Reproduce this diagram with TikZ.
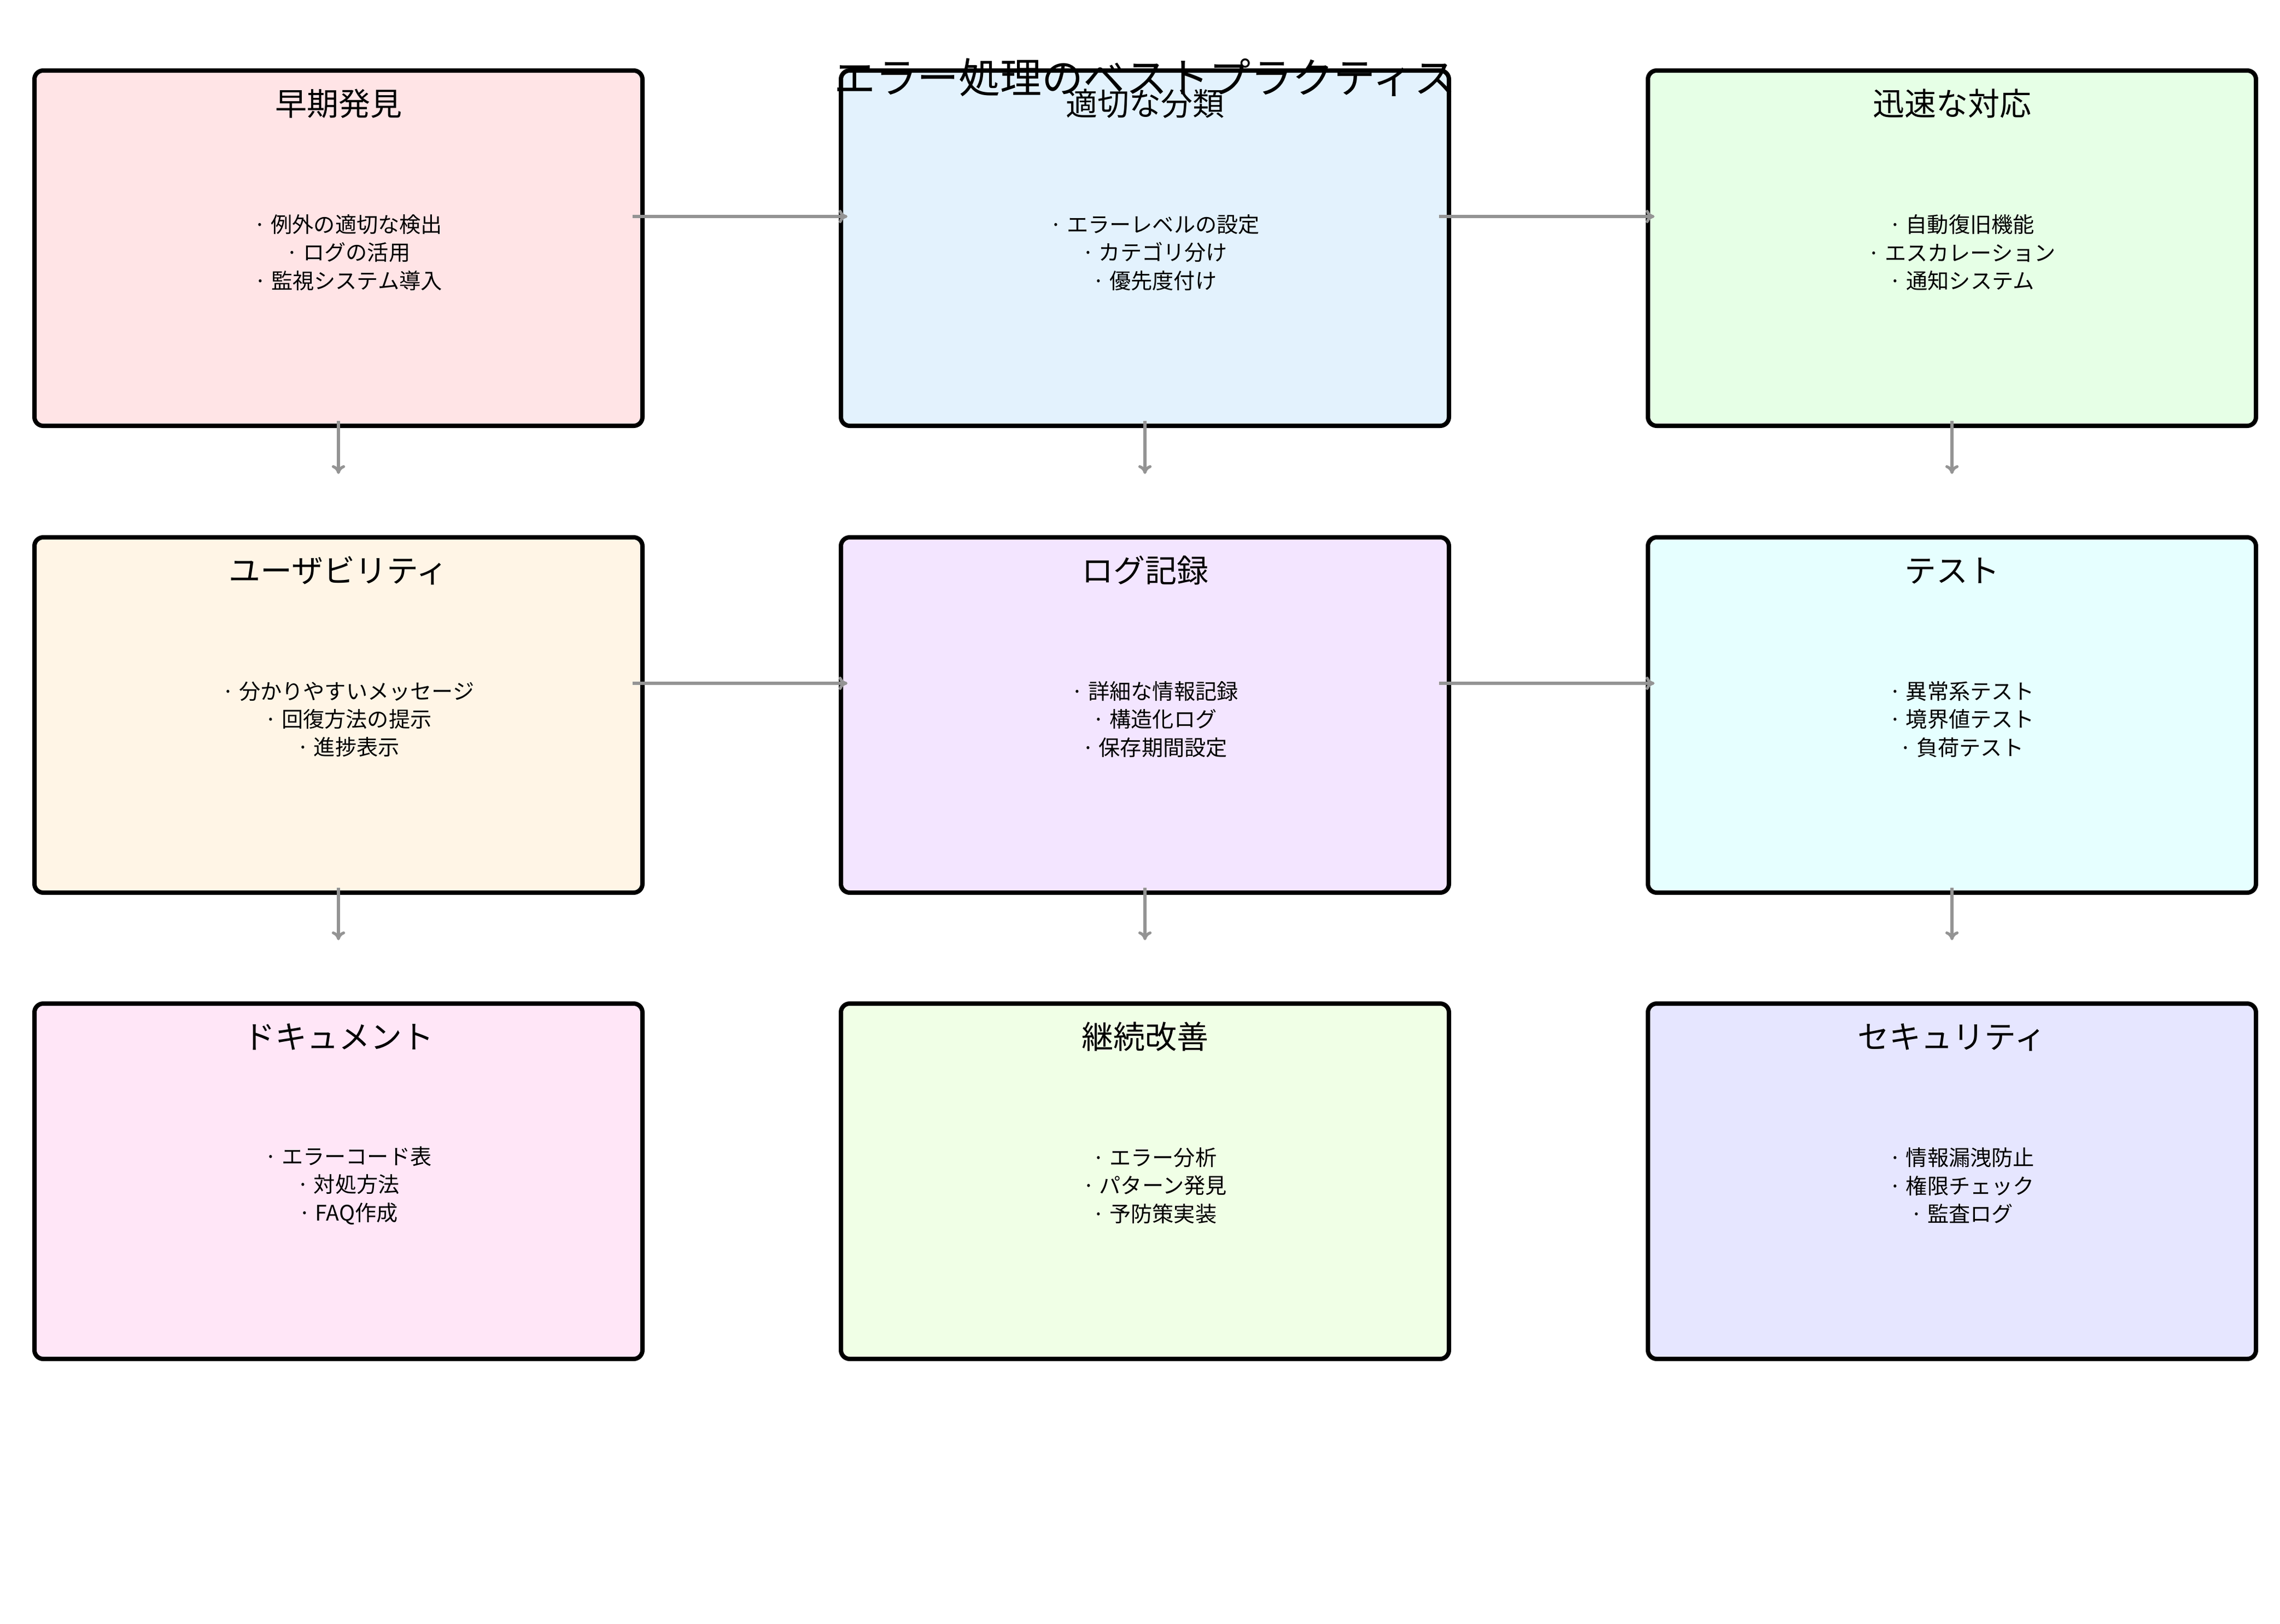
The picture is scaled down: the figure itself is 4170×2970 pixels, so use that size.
\documentclass[tikz,border=0pt]{standalone}
\usepackage{fontspec}
\setmainfont{Noto Sans CJK JP}
\usetikzlibrary{arrows.meta}
\definecolor{c1}{HTML}{FFE4E6}
\definecolor{c2}{HTML}{E3F2FD}
\definecolor{c3}{HTML}{E6FFE6}
\definecolor{c4}{HTML}{FFF5E6}
\definecolor{c5}{HTML}{F3E5FF}
\definecolor{c6}{HTML}{E6FFFF}
\definecolor{c7}{HTML}{FFE6F7}
\definecolor{c8}{HTML}{F0FFE6}
\definecolor{c9}{HTML}{E6E6FF}
\tikzset{
 card/.style={draw=black, line width=2pt, rounded corners=4pt, minimum width=278pt, minimum height=162.5pt, inner sep=0pt},
 ttl/.style={font=\fontsize{14.5}{17}\selectfont, anchor=base},
 body/.style={font=\fontsize{9.8}{12.8}\selectfont, align=center},
 conn/.style={draw=black!42, line width=1.3pt, -{To[length=4pt,width=6pt]}}
}
\begin{document}
\begin{tikzpicture}[x=0.25pt,y=-0.25pt]
\useasboundingbox[fill=white] (0,0) rectangle (4170,2970);
\def\cards{1/619/454/c1/早期発見/{· 例外の適切な検出\\· ログの活用\\· 監視システム導入},
2/2094/454/c2/適切な分類/{· エラーレベルの設定\\· カテゴリ分け\\· 優先度付け},
3/3570/454/c3/迅速な対応/{· 自動復旧機能\\· エスカレーション\\· 通知システム},
4/619/1308/c4/ユーザビリティ/{· 分かりやすいメッセージ\\· 回復方法の提示\\· 進捗表示},
5/2094/1308/c5/ログ記録/{· 詳細な情報記録\\· 構造化ログ\\· 保存期間設定},
6/3570/1308/c6/テスト/{· 異常系テスト\\· 境界値テスト\\· 負荷テスト},
7/619/2161/c7/ドキュメント/{· エラーコード表\\· 対処方法\\· FAQ作成},
8/2094/2161/c8/継続改善/{· エラー分析\\· パターン発見\\· 予防策実装},
9/3570/2161/c9/セキュリティ/{· 情報漏洩防止\\· 権限チェック\\· 監査ログ}}
\foreach \i/\x/\y/\c/\t/\b in \cards {
  \node[card, fill=\c] (b\i) at (\x,\y) {};
  \node[ttl] (t\i) at (\x,\y-243) {\t};
  \node[body] (d\i) at (\x+18,\y+8) {\b};
}
\foreach \a/\b in {1/2,2/3,4/5,5/6} {
  \draw[conn] ([xshift=-5.5pt,yshift=14.5pt]b\a.east) -- ([xshift=4pt,yshift=14.5pt]b\b.west);
}
\foreach \a/\b in {1/4,2/5,3/6,4/7,5/8,6/9} {
  \draw[conn] ([yshift=3.25pt]b\a.south) -- ([yshift=28pt]b\b.north);
}
\node[font=\fontsize{19}{22}\selectfont, anchor=base] (title) at (2094,170) {エラー処理のベストプラクティス};
\end{tikzpicture}
\end{document}
